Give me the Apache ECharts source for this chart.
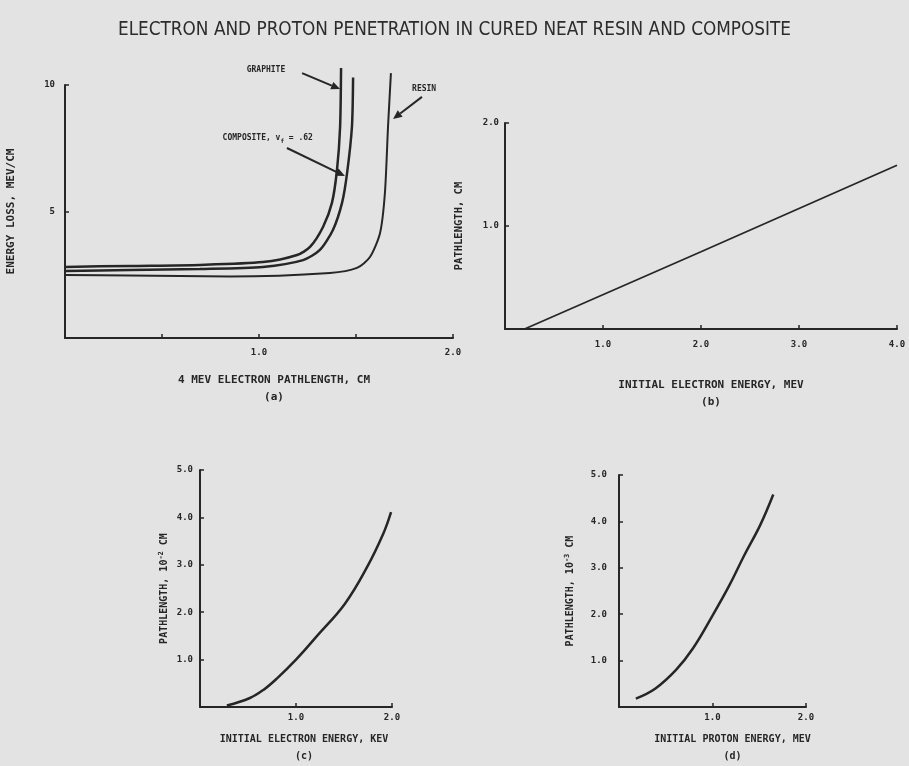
<!DOCTYPE html>
<html>
<head>
<meta charset="utf-8">
<script src="https://cdn.jsdelivr.net/npm/echarts@6/dist/echarts.min.js"></script>
<style>
html,body{margin:0;padding:0;background:#e3e3e3;}
#c{width:909px;height:766px;}
</style>
</head>
<body>
<div id="c"></div>
<script>
// ---- data ----
const titleText = 'ELECTRON AND PROTON PENETRATION IN CURED NEAT RESIN AND COMPOSITE';

// (a) energy loss vs 4 MeV electron pathlength
const graphiteX  = [0, 0.335, 0.696, 1.02, 1.196, 1.263, 1.33, 1.376, 1.402, 1.418, 1.423];
const graphiteY  = [2.81, 2.85, 2.89, 3.0, 3.28, 3.6, 4.39, 5.34, 6.64, 8.34, 10.67];
const compositeX = [0, 0.335, 0.696, 1.02, 1.227, 1.314, 1.381, 1.428, 1.454, 1.479, 1.485];
const compositeY = [2.65, 2.69, 2.73, 2.81, 3.08, 3.48, 4.27, 5.34, 6.52, 8.34, 10.3];
const resinX     = [0, 0.335, 0.85, 1.366, 1.505, 1.572, 1.624, 1.649, 1.665, 1.68];
const resinY     = [2.49, 2.47, 2.43, 2.57, 2.77, 3.2, 4.15, 5.73, 8.34, 10.47];

// (b) pathlength vs initial electron energy (MeV)
const bX = [0.2, 2.0, 4.0];
const bY = [0, 0.75, 1.59];

// (c) pathlength (10^-2 cm) vs initial electron energy (keV)
const cX = [0.28, 0.52, 0.66, 0.80, 1.0, 1.215, 1.51, 1.74, 1.91, 1.99];
const cY = [0.03, 0.19, 0.36, 0.60, 1.0, 1.49, 2.18, 2.95, 3.66, 4.11];

// (d) pathlength (10^-3 cm) vs initial proton energy (MeV)
const dX = [0.18, 0.39, 0.61, 0.79, 1.0, 1.18, 1.34, 1.51, 1.65];
const dY = [0.18, 0.40, 0.80, 1.26, 1.97, 2.62, 3.27, 3.92, 4.58];

// tick labels shown
const aXLabels = [1, 2];
const aYLabels = [5, 10];

// ---- styling ----
const INK = '#262626';
const MONO = "'DejaVu Sans Mono','Liberation Mono',monospace";
const tickFont = {color: INK, fontFamily: MONO, fontSize: 9, fontWeight: 'bold'};

function zip(xs, ys){ return xs.map((x,i)=>[x, ys[i]]); }

function xAxis(grid, max, interval, labelFn, name, sub, gap, margin, fs, pad){
  return {
    type:'value', gridIndex:grid, min:0, max:max, interval:interval,
    splitLine:{show:false},
    axisLine:{show:true, onZero:false, lineStyle:{color:INK, width:2}},
    axisTick:{show:true, inside:true, length:4, lineStyle:{color:INK, width:1.5}},
    axisLabel:Object.assign({margin:margin, formatter:labelFn, showMinLabel:true, showMaxLabel:true}, tickFont),
    name: name + '\n' + sub,
    nameLocation:'middle', nameGap:gap,
    nameTextStyle:{color:INK, fontFamily:MONO, fontSize:fs, fontWeight:'bold', lineHeight:17, padding:pad||0}
  };
}
function yAxis(grid, max, interval, labelFn, name, gap, margin, fs, rich){
  return {
    type:'value', gridIndex:grid, min:0, max:max, interval:interval,
    splitLine:{show:false},
    axisLine:{show:true, onZero:false, lineStyle:{color:INK, width:2}},
    axisTick:{show:true, inside:true, length:4, lineStyle:{color:INK, width:1.5}},
    axisLabel:Object.assign({margin:margin, formatter:labelFn}, tickFont),
    name:name, nameLocation:'middle', nameGap:gap, nameRotate:90,
    nameTextStyle:{color:INK, fontFamily:MONO, fontSize:fs, fontWeight:'bold',
      rich: rich || {}}
  };
}
const sup = {sup:{fontSize:7, fontFamily:MONO, fontWeight:'bold', color:INK, verticalAlign:'top', padding:[0,0,6,0]}};

function fmt1(v){ return v === 0 ? '' : v.toFixed(1); }

const chart = echarts.init(document.getElementById('c'), null, {renderer:'canvas'});

function lineSeries(name, xi, yi, data, width, smooth){
  return {
    name:name, type:'line', xAxisIndex:xi, yAxisIndex:yi, data:data,
    showSymbol:false, symbol:'none', smooth:smooth, clip:false,
    lineStyle:{color:INK, width:width}
  };
}

chart.setOption({
  backgroundColor:'#e3e3e3',
  animation:false,
  title:{text:titleText, left:'center', top:16,
    textStyle:{color:'#2c2c2c', fontFamily:"'DejaVu Sans Condensed','Liberation Sans Narrow',sans-serif", fontSize:18.8, fontWeight:'normal'}},
  grid:[
    {left:65, top:85, width:388, height:253},
    {left:505, top:123, width:392, height:206},
    {left:200, top:470, width:192, height:254},
    {left:619, top:475, width:187, height:242}
  ],
  xAxis:[
    xAxis(0, 2, 0.5, v => aXLabels.indexOf(v) >= 0 ? v.toFixed(1) : '', '4 MEV ELECTRON PATHLENGTH, CM', '(a)', 34, 10, 11, [0,0,0,30]),
    xAxis(1, 4, 1, fmt1, 'INITIAL ELECTRON ENERGY, MEV', '(b)', 48, 11, 11, [0,0,0,20]),
    xAxis(2, 2, 1, fmt1, 'INITIAL ELECTRON ENERGY, KEV', '(c)', 24, 6, 10, [0,0,0,16]),
    xAxis(3, 2, 1, fmt1, 'INITIAL PROTON ENERGY, MEV', '(d)', 24, 6, 10, [0,0,0,40])
  ],
  yAxis:[
    yAxis(0, 10, 5, v => aYLabels.indexOf(v) >= 0 ? String(v) : '', 'ENERGY LOSS, MEV/CM', 48, 10, 11),
    yAxis(1, 2, 1, fmt1, 'PATHLENGTH, CM', 40, 6, 10.5),
    yAxis(2, 5, 1, fmt1, 'PATHLENGTH, 10{sup|-2} CM', 29, 7, 10, sup),
    yAxis(3, 5, 1, fmt1, 'PATHLENGTH, 10{sup|-3} CM', 42, 12, 10, sup)
  ],
  series:[
    lineSeries('Graphite', 0, 0, zip(graphiteX, graphiteY), 2.5, 0.25),
    lineSeries('Composite', 0, 0, zip(compositeX, compositeY), 2.5, 0.25),
    lineSeries('Resin', 0, 0, zip(resinX, resinY), 2, 0.25),
    lineSeries('b', 1, 1, zip(bX, bY), 1.8, false),
    lineSeries('c', 2, 2, zip(cX, cY), 2.5, 0.4),
    lineSeries('d', 3, 3, zip(dX, dY), 2.5, 0.4)
  ]
});

// ---- annotations in panel (a), placed in data units ----
const notes = [
  {text:'GRAPHITE', at:[1.036, 10.59], align:'center', from:[1.222, 10.47], to:[1.418, 9.84]},
  {text:'COMPOSITE, v{sub|f} = .62', at:[1.278, 7.9], align:'right', from:[1.144, 7.51], to:[1.443, 6.40]},
  {text:'RESIN', at:[1.789, 9.84], align:'left', from:[1.840, 9.53], to:[1.691, 8.66]}
];
const g = [];
notes.forEach(n => {
  const p = chart.convertToPixel({gridIndex:0}, n.at);
  const a = chart.convertToPixel({gridIndex:0}, n.from);
  const b = chart.convertToPixel({gridIndex:0}, n.to);
  g.push({type:'text', x:p[0], y:p[1], style:{text:n.text, align:n.align, verticalAlign:'middle',
    fill:INK, font:"bold 8px " + MONO,
    rich:{sub:{fontSize:6, fontFamily:MONO, fontWeight:'bold', fill:INK, padding:[6,0,0,0]}}}});
  const dx = b[0]-a[0], dy = b[1]-a[1], L = Math.sqrt(dx*dx+dy*dy);
  const ux = dx/L, uy = dy/L, hl = 9, hw = 4;
  const bx = b[0]-ux*hl, by = b[1]-uy*hl;
  g.push({type:'line', shape:{x1:a[0], y1:a[1], x2:bx, y2:by}, style:{stroke:INK, lineWidth:2}});
  g.push({type:'polygon', shape:{points:[[b[0],b[1]],[bx-uy*hw, by+ux*hw],[bx+uy*hw, by-ux*hw]]}, style:{fill:INK}});
});
chart.setOption({graphic:g});
</script>
</body>
</html>
